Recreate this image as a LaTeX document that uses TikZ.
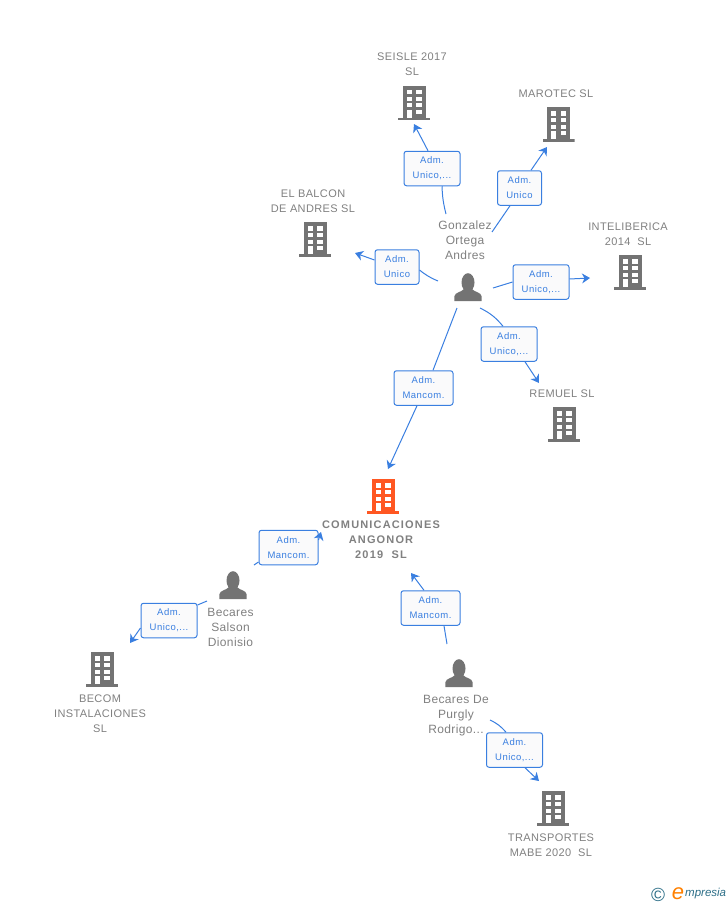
\documentclass[tikz,border=0pt]{standalone}
\usepackage{fontspec}
\setmainfont{Liberation Sans}
\usetikzlibrary{arrows.meta}
\definecolor{mygray}{RGB}{115, 115, 115}
\definecolor{textgray}{RGB}{128, 128, 128}
\definecolor{myorange}{RGB}{255, 87, 34}
\definecolor{myblue}{RGB}{58, 127, 224}
\definecolor{rolefill}{RGB}{250, 250, 251}
\definecolor{logoblue}{RGB}{44, 110, 135}
\tikzstyle{tower}[mygray] = [rectangle, minimum width=32, minimum height=36, inner sep=0,
                       path picture={
                         \begin{scope}[shift={(path picture bounding box.center)}]
                         \fill [#1] (-11.5,-17) rectangle (11.5,15);
                         \fill [#1] (-16,15) rectangle (16,17.6);
                         \foreach \y in {-12.7,-6,0.7} {
                           \fill [white] (-7.3,\y) rectangle (-2.5,\y+4.2);
                           \fill [white] (2.2,\y) rectangle (7.6,\y+4.2);
                         }
                         \fill [white] (-7.3,7.3) rectangle (-2.5,15);
                         \fill [white] (2.2,7) rectangle (7.6,11.2);
                         \end{scope}
                       }]
\tikzstyle{person} = [rectangle, minimum width=28, minimum height=28, inner sep=0,
                       path picture={
                         \begin{scope}[shift={(path picture bounding box.center)}]
                         \fill [mygray] (0,-4.5) ellipse (6.5 and 9.3);
                         \fill [mygray] (-13.7,14) -- (-13.7,9.5) .. controls (-13,5) and (-7,5.5) .. (-4,2)
                            -- (4,2) .. controls (7,5.5) and (13,5) .. (13.7,9.5) -- (13.7,14) -- cycle;
                         \end{scope}
                       }]
\tikzstyle{caption} = [text=textgray, align=center, inner sep=0,
                       font=\fontsize{11}{15}\selectfont\addfontfeature{LetterSpace=3.5}]
\tikzstyle{captionB} = [caption, font=\fontsize{11}{15}\selectfont\bfseries\addfontfeature{LetterSpace=10.5}]
\tikzstyle{captionP} = [caption, font=\fontsize{12}{15}\selectfont\addfontfeature{LetterSpace=3}]
\tikzstyle{role} = [rectangle, rounded corners=2.5, draw=myblue, fill=rolefill, text=myblue, line width=1,
                    align=center, inner sep=0, execute at begin node=\rule{0pt}{12pt},
                    font=\fontsize{9.5}{15}\selectfont\addfontfeature{LetterSpace=5}]
\tikzstyle{roleS} = [role, minimum width=44, minimum height=34.5]
\tikzstyle{roleM} = [role, minimum width=56, minimum height=34.5]
\tikzstyle{roleL} = [role, minimum width=59, minimum height=34.5]
\tikzstyle{link} = [myblue, line width=1]
\tikzstyle{arrow} = [link, -{Stealth[length=8, width=10, inset=2.5]}]

\begin{document}
\begin{tikzpicture}[x=1pt, y=-1pt]
        \useasboundingbox (0,0) rectangle (728,905);

        % companies
        \node (Seisle) [tower] at (414,102.5) {};
        \node (SeisleName) [caption] at (412,64) {SEISLE 2017\\SL};
        \node (Marotec) [tower] at (558.5,124) {};
        \node (MarotecName) [caption] at (556,94) {MAROTEC SL};
        \node (Inteliberica) [tower] at (630,272) {};
        \node (IntelibericaName) [caption] at (628,234) {INTELIBERICA\\2014~~SL};
        \node (Balcon) [tower] at (315,239) {};
        \node (BalconName) [caption] at (313,201) {EL BALCON\\DE ANDRES SL};
        \node (Remuel) [tower] at (564,424) {};
        \node (RemuelName) [caption] at (562,394) {REMUEL SL};
        \node (Angonor) [tower=myorange] at (383,496) {};
        \node (AngonorName) [captionB] at (381,540) {COMUNICACIONES\\ANGONOR\\2019~~SL};
        \node (Becom) [tower] at (102,669) {};
        \node (BecomName) [caption] at (100,714) {BECOM\\INSTALACIONES\\SL};
        \node (Transportes) [tower] at (553,808) {};
        \node (TransportesName) [caption] at (551,845) {TRANSPORTES\\MABE 2020~~SL};

        % people
        \node (Gonzalez) [person] at (468,287) {};
        \node (GonzalezName) [captionP] at (465,240) {Gonzalez\\Ortega\\Andres};
        \node (Salson) [person] at (233,585) {};
        \node (SalsonName) [captionP] at (230.5,627) {Becares\\Salson\\Dionisio};
        \node (Purgly) [person] at (459,673) {};
        \node (PurglyName) [captionP] at (456,715.5) {Becares De\\Purgly\\Rodrigo...};

        % roles
        \node (RoleSeisle) [roleM] at (432,168.5) {Adm.\\Unico,...};
        \node (RoleMarotec) [roleS] at (519.5,188) {Adm.\\Unico};
        \node (RoleInteliberica) [roleM] at (541,282) {Adm.\\Unico,...};
        \node (RoleBalcon) [roleS] at (397,267) {Adm.\\Unico};
        \node (RoleRemuel) [roleM] at (509,344) {Adm.\\Unico,...};
        \node (RoleAngonor) [roleL] at (423.5,388) {Adm.\\Mancom.};
        \node (RoleSalson) [roleL] at (288.5,547.5) {Adm.\\Mancom.};
        \node (RolePurgly) [roleL] at (430.5,608) {Adm.\\Mancom.};
        \node (RoleBecom) [roleM] at (169,620.5) {Adm.\\Unico,...};
        \node (RoleTransportes) [roleM] at (514.5,750) {Adm.\\Unico,...};

        % free ends of the links
        \coordinate (g1) at (446,214);
        \coordinate (g2) at (492,232);
        \coordinate (g3) at (493,288);
        \coordinate (g4) at (438,281);
        \coordinate (g5) at (480,308);
        \coordinate (g6) at (457,308);
        \coordinate (s1) at (254,565);
        \coordinate (s2) at (207,601);
        \coordinate (p1) at (447,644);
        \coordinate (p2) at (490,720);
        \coordinate (t1) at (414,124);
        \coordinate (t2) at (547,147);
        \coordinate (t3) at (590,278);
        \coordinate (t4) at (355,253);
        \coordinate (t5) at (539,383);
        \coordinate (t6) at (388,469);
        \coordinate (t7) at (321,532);
        \coordinate (t8) at (411,573);
        \coordinate (t9) at (130,643);
        \coordinate (t10) at (539,781);

        \draw [link] (g1) to[bend left=6] ([xshift=10]RoleSeisle.south);
        \draw [arrow] ([xshift=-4]RoleSeisle.north) -- (t1);
        \draw [link] (g2) -- ([xshift=-9.5]RoleMarotec.south);
        \draw [arrow] ([xshift=11.5]RoleMarotec.north) -- (t2);
        \draw [link] (g3) -- (RoleInteliberica.west);
        \draw [arrow] ([yshift=3]RoleInteliberica.east) -- (t3);
        \draw [link] (g4) to[bend left=8] ([yshift=-3]RoleBalcon.east);
        \draw [arrow] ([yshift=7]RoleBalcon.west) -- (t4);
        \draw [link] (g5) to[bend left=12] ([xshift=-6]RoleRemuel.north);
        \draw [arrow] ([xshift=16]RoleRemuel.south) -- (t5);
        \draw [link] (g6) -- ([xshift=9.5]RoleAngonor.north);
        \draw [arrow] ([xshift=-6.5]RoleAngonor.south) -- (t6);
        \draw [link] (s1) -- ([yshift=-14.5]RoleSalson.west);
        \draw [arrow] ([yshift=7.5]RoleSalson.east) -- (t7);
        \draw [link] (p1) -- ([xshift=13.5]RolePurgly.south);
        \draw [arrow] ([xshift=-6.5]RolePurgly.north) -- (t8);
        \draw [link] (s2) -- ([yshift=15.5]RoleBecom.east);
        \draw [arrow] ([yshift=-7.5]RoleBecom.west) -- (t9);
        \draw [link] (p2) to[bend left=12] ([xshift=-8.5]RoleTransportes.north);
        \draw [arrow] ([xshift=10.5]RoleTransportes.south) -- (t10);

        % logo
        \node (LogoC) [text=logoblue, font=\fontsize{19}{19}\selectfont, inner sep=0] at (658,895) {©};
        \node (LogoE) [text=orange, font=\fontsize{22}{22}\selectfont\itshape, inner sep=0] at (678,893.5) {e};
        \node (LogoText) [text=logoblue, font=\fontsize{11.5}{11.5}\selectfont\itshape, anchor=west, inner sep=0] at (685,894) {mpresia};

    \end{tikzpicture}
\end{document}
